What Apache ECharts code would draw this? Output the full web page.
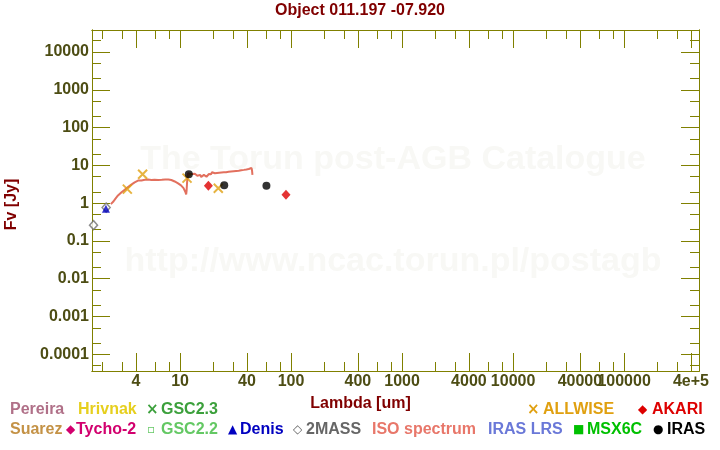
<!DOCTYPE html>
<html><head><meta charset="utf-8">
<script src="https://cdn.jsdelivr.net/npm/echarts@6/dist/echarts.min.js"></script>
<style>html,body{margin:0;padding:0;background:#fff}#c{width:720px;height:450px}</style>
</head><body><div id="c"></div>
<script>
const chartTitle = 'Object 011.197 -07.920';
const xName = 'Lambda [um]';
const yName = 'Fv [Jy]';
const xRange = [1.61, 4.73e5];
const yRange = [3.62e-5, 3.82e4];
const xLabelValues = [4,10,40,100,400,1000,4000,10000,40000,100000,400000];
const xLabelTexts = ['4','10','40','100','400','1000','4000','10000','40000','100000','4e+5'];
const xMinorTicks = [2,3,6,8,20,30,60,80,200,300,600,800,2000,3000,6000,8000,20000,30000,60000,80000,200000,300000];
const yLabelValues = [0.0001,0.001,0.01,0.1,1,10,100,1000,10000];
const yLabelTexts = ['0.0001','0.001','0.01','0.1','1','10','100','1000','10000'];
const yMinorTicks = [5e-5,2e-4,5e-4,2e-3,5e-3,0.02,0.05,0.2,0.5,2,5,20,50,200,500,2000,5000,20000];

const twomassWave = [1.662, 2.159];
const twomassFlux = [0.262, 0.765];
const denisWave = [2.15];
const denisFlux = [0.71];
const allwiseWave = [3.35, 4.6, 11.56, 22.1];
const allwiseFlux = [2.35, 5.85, 4.59, 2.49];
const akariWave = [18, 90];
const akariFlux = [2.87, 1.66];
const irasWave = [12, 25, 60];
const irasFlux = [5.85, 2.99, 2.87];
const isoWave = [2.38,2.45,2.52,2.6,2.67,2.76,2.86,2.97,3.07,3.17,3.3,3.42,3.52,3.64,3.77,3.9,4.05,4.18,4.33,4.49,4.65,4.82,4.98,5.15,5.35,5.52,5.7,5.9,6.12,6.35,6.6,6.85,7.1,7.35,7.6,7.85,8.1,8.35,8.65,8.95,9.27,9.6,9.93,10.2,10.5,10.75,11.0,11.2,11.35,11.45,11.56,11.7,
  11.8,12.0,12.2,12.4,12.6,12.8,13.0,13.2,13.4,13.6,13.8,14.0,14.3,14.6,14.9,15.2,15.5,15.8,16.1,16.4,16.7,17.0,17.3,17.6,17.9,18.2,18.6,19.0,19.4,19.8,20.2,20.6,21.0,21.5,22.0,22.5,23.0,23.6,24.2,24.8,25.4,26.0,26.7,27.4,28.1,28.8,29.6,30.4,31.2,32.0,32.9,33.8,34.7,35.6,36.6,37.6,38.6,39.6,40.6,41.6,42.5,43.3,44.0,44.5,44.9];
const isoFlux = [0.94,1.05,1.12,1.28,1.42,1.6,1.76,1.95,2.1,2.25,2.5,2.7,2.87,3.1,3.35,3.55,3.8,3.95,4.2,4.0,4.35,4.15,4.45,4.2,4.4,4.1,4.35,4.15,4.4,4.1,4.3,4.15,4.3,4.2,4.35,4.25,4.35,4.1,3.95,3.75,3.5,3.35,3.05,2.95,2.7,2.5,2.25,1.95,1.7,2.1,3.38,5.2,
  6.22,5.7,6.45,5.9,6.2,6.5,5.9,6.3,5.7,6.0,5.5,5.8,5.3,5.9,5.1,5.6,4.9,5.5,5.1,5.6,5.2,5.7,5.0,5.6,5.1,5.9,6.3,5.8,6.6,6.1,6.7,6.2,6.8,6.3,6.9,6.4,6.9,6.5,7.0,6.6,7.1,6.6,7.2,6.8,7.3,6.9,7.4,7.0,7.6,7.1,7.7,7.2,7.9,7.4,8.1,7.6,8.3,7.8,8.6,8.0,9.0,8.2,8.6,7.4,5.6];

const legendRow1 = [
  {name:'Pereira', color:'#b07088'},
  {name:'Hrivnak', color:'#e6cf1e'},
  {name:'GSC2.3', color:'#3ca03c', mark:'×'},
  {name:'ALLWISE', color:'#e0a010', mark:'×'},
  {name:'AKARI', color:'#dd0000', mark:'◆'}
];
const legendRow2 = [
  {name:'Suarez', color:'#c49246'},
  {name:'Tycho-2', color:'#d2006e', mark:'◆'},
  {name:'GSC2.2', color:'#64c864', mark:'▫'},
  {name:'Denis', color:'#0000c0', mark:'▲'},
  {name:'2MASS', color:'#666666', mark:'◇'},
  {name:'ISO spectrum', color:'#e8776a'},
  {name:'IRAS LRS', color:'#6a78d8'},
  {name:'MSX6C', color:'#00c000', mark:'■'},
  {name:'IRAS', color:'#000000', mark:'●'}
];
const watermark1 = 'The Torun post-AGB Catalogue';
const watermark2 = 'http://www.ncac.torun.pl/postagb';

const L = v => Math.log10(v);
const FONT = '"Liberation Sans", Arial, sans-serif';
const AX = '#808000', LAB = '#4d4d14', RED = '#800000';
function fmt(vals, texts) {
  return v => { let b = 0, d = 1e9; vals.forEach((t, i) => { const e = Math.abs(L(t) - v); if (e < d) { d = e; b = i; } }); return texts[b]; };
}
function axisCfg(dir, pos, ticks, len, withLabel) {
  const isX = dir === 'x';
  const range = isX ? xRange : yRange;
  const lv = isX ? xLabelValues : yLabelValues;
  const lt = isX ? xLabelTexts : yLabelTexts;
  return {
    type:'value', position: pos, min: L(range[0]), max: L(range[1]),
    axisLine:{show:true, onZero:false, lineStyle:{color:AX, width:1}},
    axisTick:{show:true, inside:true, length:len, customValues: ticks.map(L), lineStyle:{color:AX, width:1}},
    axisLabel:{show:withLabel, customValues: lv.map(L), formatter: fmt(lv, lt), margin: 3,
      color: LAB, fontFamily: FONT, fontWeight:'bold', fontSize: 16},
    splitLine:{show:false}
  };
}
const xAxes = [
  axisCfg('x','bottom', xLabelValues, 18, true),
  axisCfg('x','bottom', xMinorTicks, 9, false),
  axisCfg('x','top', xLabelValues, 18, false),
  axisCfg('x','top', xMinorTicks, 9, false)
];
xAxes[0].name = xName; xAxes[0].nameLocation = 'middle'; xAxes[0].nameGap = 25;
xAxes[0].nameTextStyle = {color: RED, fontFamily: FONT, fontWeight:'bold', fontSize:16, padding:[0,70,0,0]};
const yAxes = [
  axisCfg('y','left', yLabelValues, 18, true),
  axisCfg('y','left', yMinorTicks, 9, false),
  axisCfg('y','right', yLabelValues, 18, false),
  axisCfg('y','right', yMinorTicks, 9, false)
];
yAxes[0].name = yName; yAxes[0].nameLocation = 'middle'; yAxes[0].nameGap = 72;
yAxes[0].nameTextStyle = {color: RED, fontFamily: FONT, fontWeight:'bold', fontSize:16, padding:[0,8,0,0]};

const pts = (w, f) => w.map((x, i) => [L(x), L(f[i])]);

const graphics = [];
[[watermark1, 160], [watermark2, 262]].forEach(([t, y]) => graphics.push({
  type:'text', silent:true, z:-1,
  style:{text:t, x:393, y:y, align:'center', verticalAlign:'middle', fill:'#f8f8f5', font:'bold 34px ' + FONT}
}));
const row1X = [[10], [78], [146,161], [527,543], [638,652]];
const row2X = [[10], [66,76], [147,161], [228,240], [293,306], [372], [488], [573,587], [653,667]];
function addLegend(row, xs, y) {
  row.forEach((it, i) => {
    const p = xs[i];
    if (it.mark) {
      const size = it.mark === '×' ? 15 : 12;
      graphics.push({type:'text', style:{text:it.mark, x:p[0], y:y, align:'left', verticalAlign:'middle', fill:it.color, font:'bold ' + size + 'px "DejaVu Sans", sans-serif'}});
      graphics.push({type:'text', style:{text:it.name, x:p[1], y:y, align:'left', verticalAlign:'middle', fill:it.color, font:'bold 16px ' + FONT}});
    } else {
      graphics.push({type:'text', style:{text:it.name, x:p[0], y:y, align:'left', verticalAlign:'middle', fill:it.color, font:'bold 16px ' + FONT}});
    }
  });
}
addLegend(legendRow1, row1X, 410);
addLegend(legendRow2, row2X, 430);

const chart = echarts.init(document.getElementById('c'), null, {renderer:'canvas'});
chart.setOption({
  animation:false,
  backgroundColor:'#fff',
  title:{text:chartTitle, left:'center', top:3, padding:0, textStyle:{color:RED, fontFamily:FONT, fontWeight:'bold', fontSize:16}},
  grid:{left:92, right:21, top:30, bottom:79, containLabel:false, outerBoundsMode:'none'},
  xAxis: xAxes,
  yAxis: yAxes,
  graphic: graphics,
  series:[
    {name:'ISO spectrum', type:'line', data: pts(isoWave, isoFlux), showSymbol:false, lineStyle:{color:'#e2705e', width:2}, z:2},
    {name:'2MASS', type:'scatter', data: pts(twomassWave, twomassFlux), symbol:'diamond', symbolSize:[8,9], itemStyle:{color:'#fff', borderColor:'#707070', borderWidth:1.5}, z:3},
    {name:'Denis', type:'scatter', data: pts(denisWave, denisFlux), symbol:'triangle', symbolSize:8, itemStyle:{color:'#0000c0'}, z:4},
    {name:'ALLWISE', type:'scatter', data: pts(allwiseWave, allwiseFlux), symbol:'path://M0,0L10,10M10,0L0,10', symbolSize:9, itemStyle:{color:'rgba(0,0,0,0)', borderColor:'#e0a010', borderWidth:2}, z:4},
    {name:'AKARI', type:'scatter', data: pts(akariWave, akariFlux), symbol:'diamond', symbolSize:[9,10], itemStyle:{color:'#dd0000'}, z:4},
    {name:'IRAS', type:'scatter', data: pts(irasWave, irasFlux), symbol:'circle', symbolSize:8, itemStyle:{color:'#000'}, z:5}
  ]
});
</script>
</body></html>
